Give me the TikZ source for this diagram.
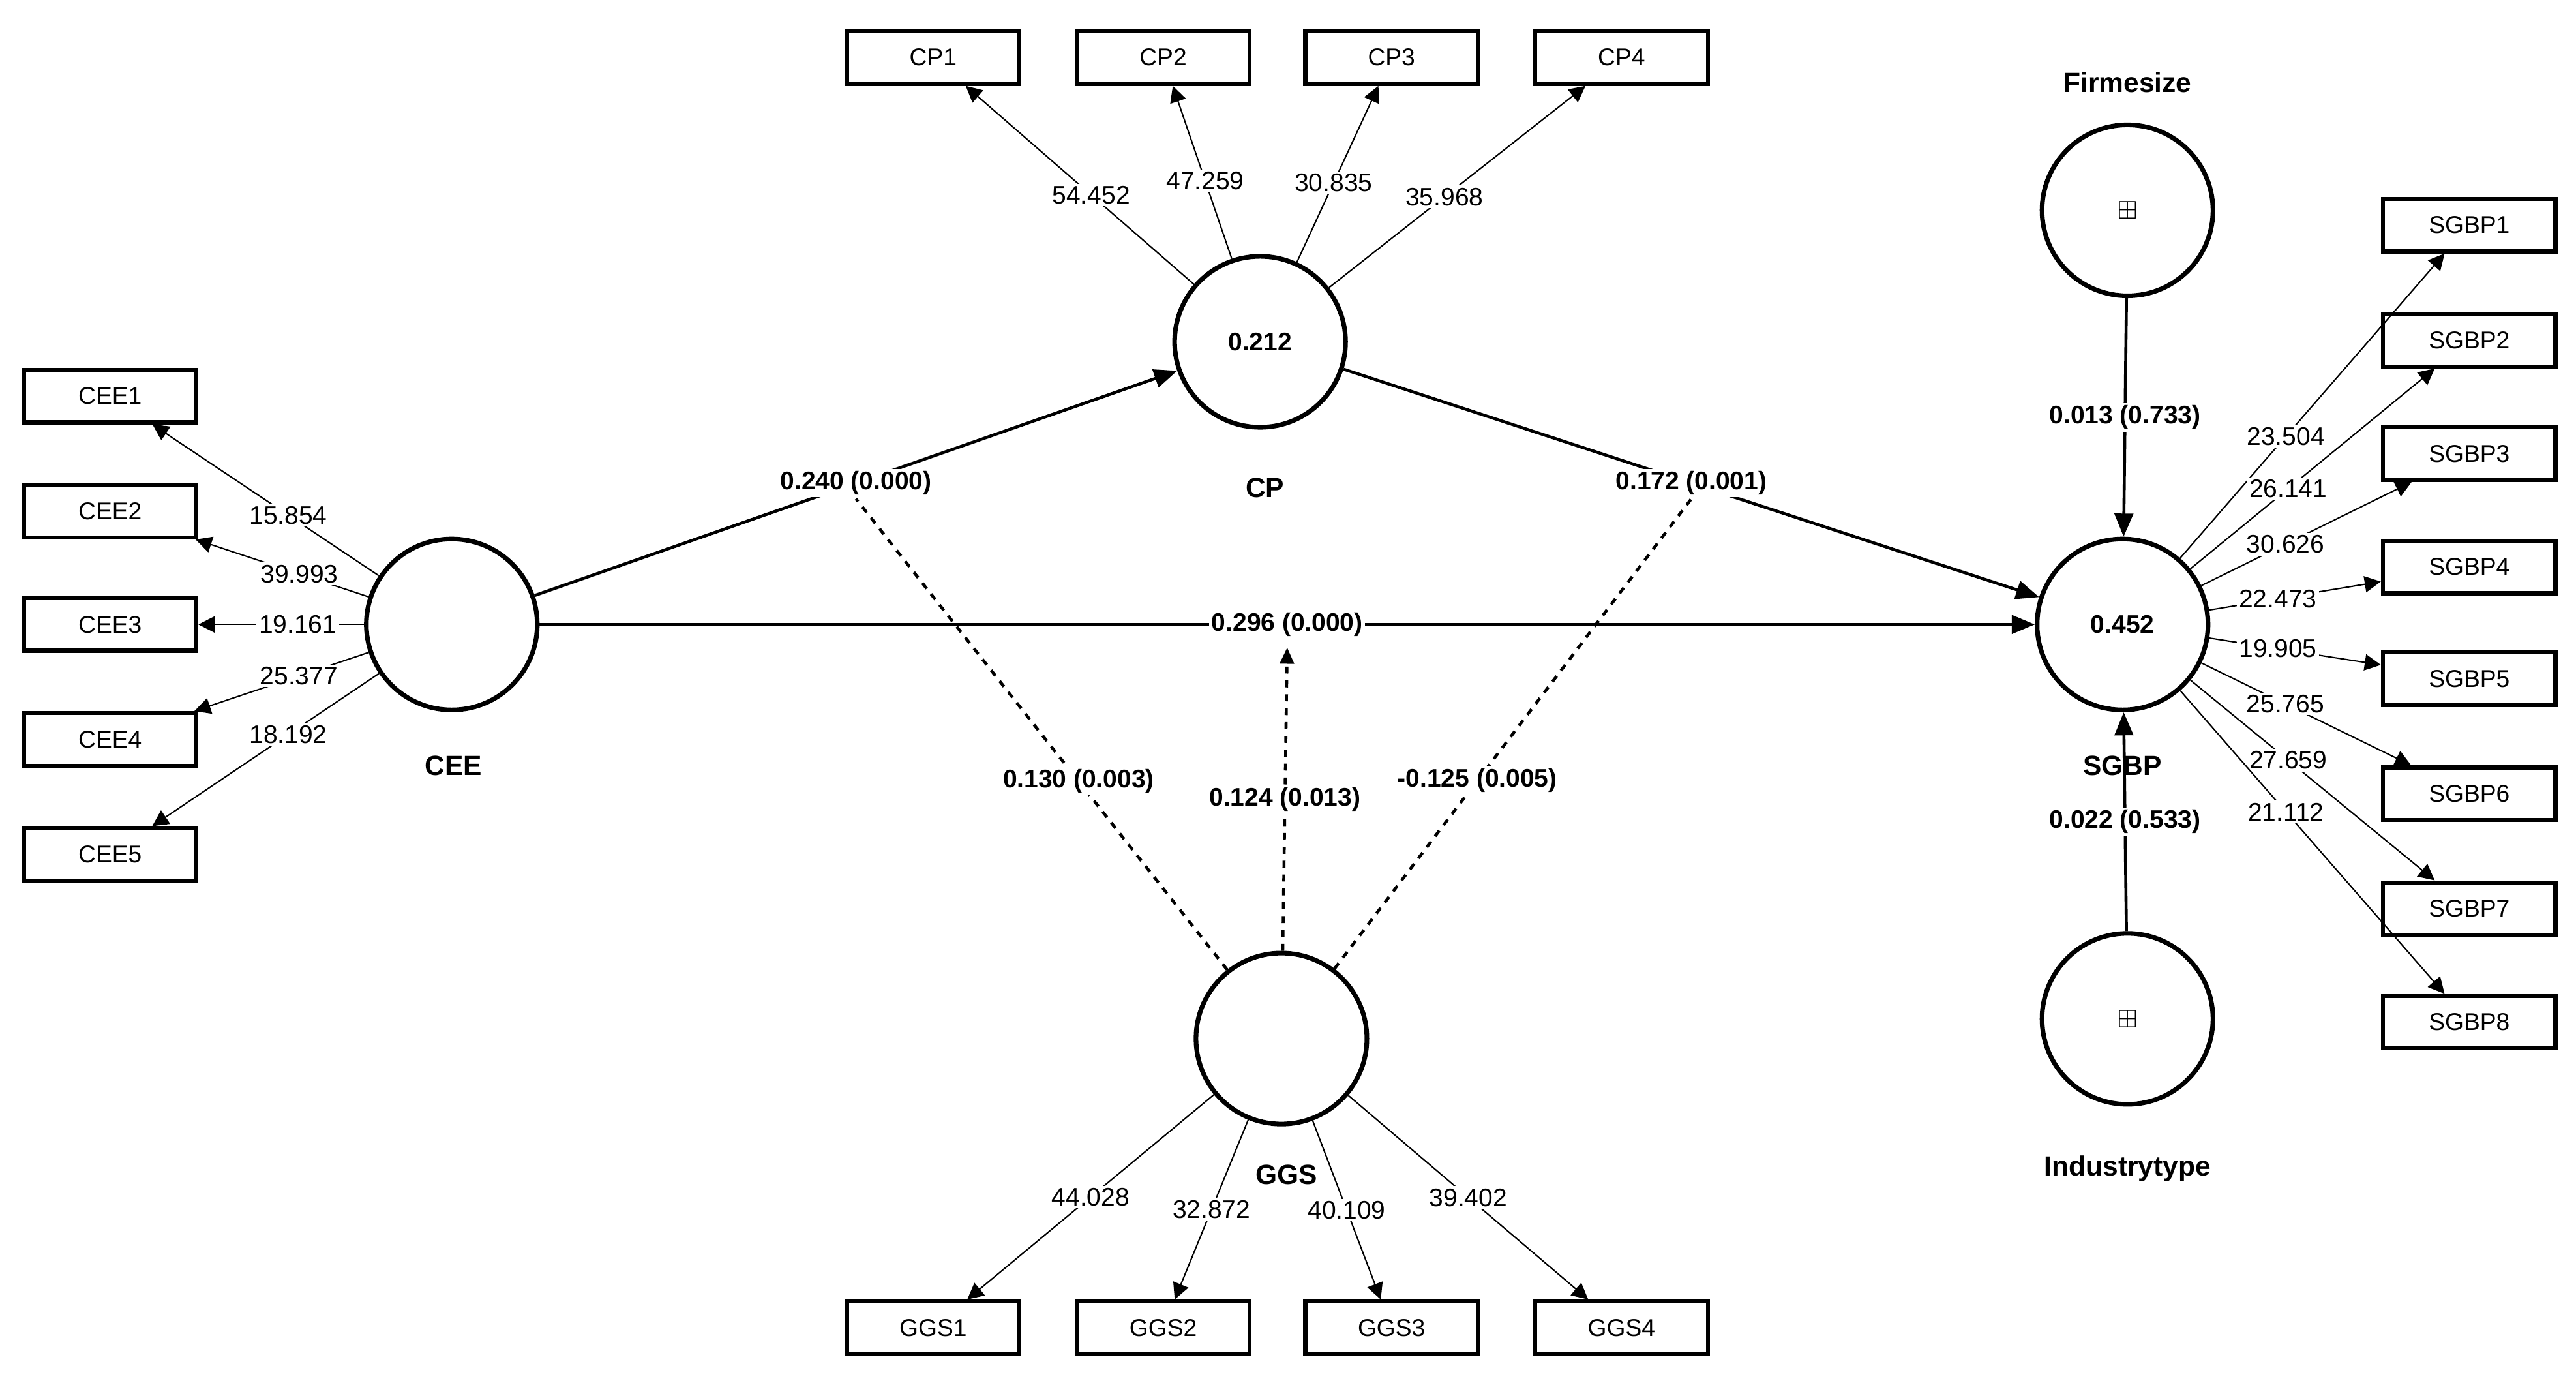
\documentclass[tikz,border=0pt]{standalone}
\usepackage{fontspec}
\setmainfont{Liberation Sans}
\usepackage{amssymb}
\usetikzlibrary{arrows.meta}
\tikzset{
  lv/.style={circle,draw,line width=2pt,minimum size=2.6cm,inner sep=0pt,font=\bfseries\fontsize{11}{13}\selectfont},
  mv/.style={rectangle,draw,line width=1.8pt,minimum width=2.625cm,minimum height=0.8cm,inner sep=0pt,font=\fontsize{10.5}{12}\selectfont},
  ld/.style={->,>={Triangle[length=7pt,width=7pt]},line width=0.6pt},
  pth/.style={->,>={Triangle[length=10pt,width=8pt]},line width=1.3pt},
  lab/.style={fill=white,inner sep=1pt,font=\fontsize{11}{13}\selectfont},
  plab/.style={fill=white,inner sep=1pt,font=\bfseries\fontsize{11}{13}\selectfont},
  nm/.style={font=\bfseries\fontsize{12}{14}\selectfont}
}
\begin{document}
\begin{tikzpicture}[x=0.025cm,y=-0.025cm]
  \useasboundingbox (0,0) rectangle (1568,840);

  % latent variables
  \node[lv] (CEE) at (275,380) {};
  \node[lv] (CP) at (767,208) {0.212};
  \node[lv] (SGBP) at (1292,380) {0.452};
  \node[lv] (GGS) at (780,632) {};
  \node[lv] (FS) at (1295,128) {$\boxplus$};
  \node[lv] (IT) at (1295,620) {$\boxplus$};
  \node[nm] at (276,466) {CEE};
  \node[nm] at (770,297) {CP};
  \node[nm] at (1292,466) {SGBP};
  \node[nm] at (783,715) {GGS};
  \node[nm] at (1295,50) {Firmesize};
  \node[nm] at (1295,711) {Industrytype};

  % indicators
  \foreach \i/\x/\v in {1/568/54.452,2/708/47.259,3/847/30.835,4/987/35.968} {
    \node[mv] (CP\i) at (\x,35) {CP\i};
    \draw[ld] (CP) -- (CP\i) node[lab,pos=0.45] {\v};
  }
  \foreach \i/\y/\v in {1/241/15.854,2/311/39.993,3/380/19.161,4/450/25.377,5/520/18.192} {
    \node[mv] (CEE\i) at (67,\y) {CEE\i};
    \draw[ld] (CEE) -- (CEE\i) node[lab,pos=0.4] {\v};
  }
  \foreach \i/\x/\v in {1/568/44.028,2/708/32.872,3/847/40.109,4/987/39.402} {
    \node[mv] (GGS\i) at (\x,808) {GGS\i};
    \draw[ld] (GGS) -- (GGS\i) node[lab,pos=0.5] {\v};
  }
  \foreach \i/\y/\v in {1/137/23.504,2/207/26.141,3/276/30.626,4/345/22.473,5/413/19.905,6/483/25.765,7/553/27.659,8/622/21.112} {
    \node[mv] (SGBP\i) at (1503,\y) {SGBP\i};
    \draw[ld] (SGBP) -- (SGBP\i) node[lab,pos=0.4] {\v};
  }

  % structural paths
  \draw[pth] (CEE) -- (CP) node[plab,pos=0.5] (pa) {0.240 (0.000)};
  \draw[pth] (CP) -- (SGBP) node[plab,pos=0.5] (pb) {0.172 (0.001)};
  \draw[pth] (CEE) -- (SGBP) coordinate[pos=0.5] (pc) node[plab,pos=0.5] {0.296 (0.000)};
  \draw[pth] (FS) -- (SGBP) node[plab,pos=0.5] {0.013 (0.733)};
  \draw[pth] (IT) -- (SGBP) node[plab,pos=0.5] {0.022 (0.533)};

  % moderating effects
  \draw[dashed,line width=1.3pt] (GGS) -- (pa.south) node[plab,pos=0.4] {0.130 (0.003)};
  \draw[dashed,line width=1.3pt] (GGS) -- (pb.south) node[plab,pos=0.4] {-0.125 (0.005)};
  \draw[dashed,line width=1.3pt,->,>={Triangle[length=7pt,width=6pt]}] (GGS) -- ([yshift=-10pt]pc) node[plab,pos=0.5] {0.124 (0.013)};
\end{tikzpicture}
\end{document}
